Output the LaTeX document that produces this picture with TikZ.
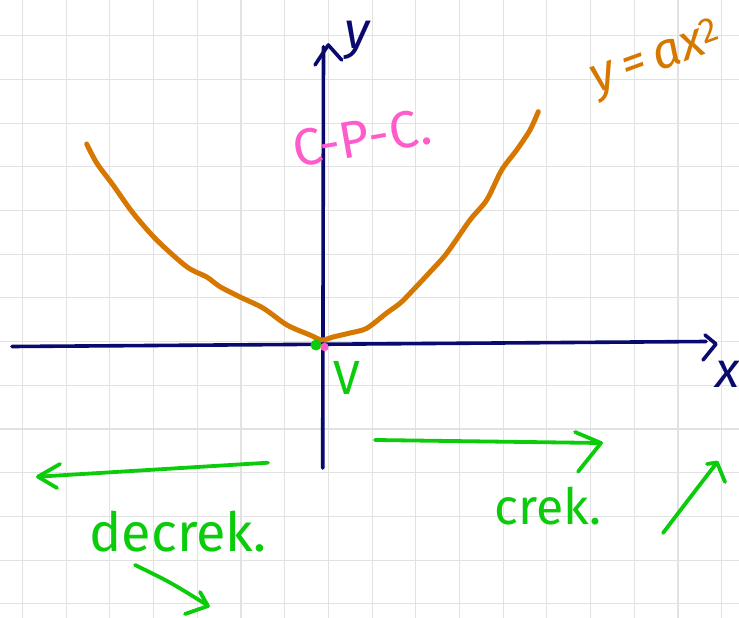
\documentclass[tikz,border=0pt]{standalone}
\usepackage{fontspec}
\setmainfont{Fira Sans}
\definecolor{navy}{RGB}{10,10,110}
\definecolor{curveor}{RGB}{214,120,0}
\definecolor{pinkc}{RGB}{255,92,203}
\definecolor{greenc}{RGB}{10,204,10}
\definecolor{gridc}{RGB}{226,226,226}
\tikzset{
  gridline/.style={draw=gridc, line width=1.1pt},
  axisline/.style={draw=navy, line width=3.6pt},
  curveline/.style={draw=curveor, line width=5pt},
  greenline/.style={draw=greenc, line width=3.8pt},
  lbl/.style={inner sep=0pt, anchor=center}
}
\begin{document}
\begin{tikzpicture}[x=1pt,y=-1pt,line cap=round,line join=round]
\useasboundingbox (0,0) rectangle (739,618);
\fill[white] (0,0) rectangle (739,618);
% grid
\foreach \i in {0,...,16} \draw[gridline] ({22.5+43.7*\i},0) -- ++(0,618);
\foreach \j in {0,...,13} \draw[gridline] (0,{35.7+43.7*\j}) -- ++(739,0);
% axes
\coordinate (xl) at (12,346.5);
\coordinate (xr) at (706,341.5);
\coordinate (yb) at (322.7,468);
\coordinate (yt) at (323.5,46.7);
\draw[axisline] (xl) -- (xr);
\draw[axisline] (705,335) -- (716,344) -- (703,360);
\draw[axisline] (yb) -- (yt);
\draw[axisline] (315,65) -- (328.3,45) -- (341.7,60);
\node[lbl, text=navy] (ylab) at (357,40) {\fontsize{52}{56}\selectfont\itshape y};
\node[lbl, text=navy] (xlab) at (727,374) {\fontsize{50}{54}\selectfont\itshape x};
% parabola
\draw[curveline] plot[smooth, tension=0.5] coordinates {
 (86.7,144) (96.7,163) (113,185) (133,213) (156.7,240) (186.7,266.7)
 (206.7,277) (220,286.7) (240,297) (263,308) (287,325) (310,335) (322,340)
 (333,337) (350,333) (366.7,328.3) (386.7,313) (400,303.3) (410,293.3)
 (430,272) (446.7,253.3) (470,220) (486.7,200) (501.7,170) (516.7,150)
 (530,130) (538.3,111.7)};
% vertex dots
\fill[greenc] (316,345) circle (5.5);
\fill[pinkc] (324.5,347) circle (4.2);
% labels
\node[lbl, text=curveor, rotate=20] (eq) at (657,60) {\fontsize{50}{54}\selectfont\itshape y\,=\,ax\textsuperscript{\upshape 2}};
\node[lbl, text=pinkc, rotate=10] (cpc) at (362,138) {\fontsize{52}{56}\selectfont C-P-C.};
\node[lbl, text=greenc] (vlab) at (347,378) {\fontsize{48}{52}\selectfont V};
% green arrows
\coordinate (la1) at (268,462.7);
\coordinate (la2) at (38,476.7);
\draw[greenline] (la1) -- (la2);
\draw[greenline] (60,464) -- (la2) -- (57,488);
\coordinate (ra1) at (375,440);
\coordinate (ra2) at (601,443);
\draw[greenline] (ra1) -- (ra2);
\draw[greenline] (575,432) -- (ra2) -- (578,471.7);
\coordinate (da1) at (135,565);
\coordinate (da2) at (207,605);
\draw[greenline] (da1) .. controls (170,582) .. (da2);
\draw[greenline] (200,592) -- (208,606) -- (185,614);
\coordinate (ua1) at (663,533);
\coordinate (ua2) at (717,462.5);
\draw[greenline] (ua1) .. controls (692,495) .. (ua2);
\draw[greenline] (707,464) -- (ua2) -- (725,482);
\node[lbl, text=greenc] (dec) at (178,532) {\fontsize{54}{58}\selectfont decrek.};
\node[lbl, text=greenc] (inc) at (548,506) {\fontsize{50}{54}\selectfont crek.};
\end{tikzpicture}
\end{document}
